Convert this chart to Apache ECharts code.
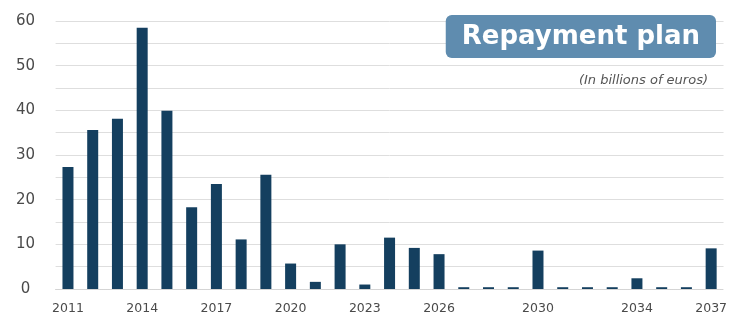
<!DOCTYPE html>
<html>
<head>
<meta charset="utf-8">
<script src="https://cdn.jsdelivr.net/npm/echarts@6/dist/echarts.min.js"></script>
<style>
  html, body { margin: 0; padding: 0; background: #fff; }
  #chart { width: 730px; height: 324px; }
</style>
</head>
<body>
<div id="chart"></div>
<script>
// Repayment plan, billions of euros
const years = ['2011', '2012', '2013', '2014', '2015', '2016', '2017', '2018', '2019', '2020',
  '2021', '2022', '2023', '2024', '2025', '2026', '2027', '2028', '2029', '2030',
  '2031', '2032', '2033', '2034', '2035', '2036', '2037']
const repayments = [27.3, 35.6, 38.1, 58.5, 39.9, 18.3, 23.5, 11.1, 25.6, 5.7,
  1.6, 10, 1.0, 11.5, 9.2, 7.8, 0.4, 0.4, 0.4, 8.6,
  0.4, 0.4, 0.4, 2.4, 0.4, 0.4, 9.1]
const yearLabels = ['2011', '2014', '2017', '2020', '2023', '2026', '2030', '2034', '2037']
const yTicks = [0, 10, 20, 30, 40, 50, 60]

const chart = echarts.init(document.getElementById('chart'))

const option = {
  animation: false,
  title: [
    {
      text: 'Repayment plan',
      right: 14,
      top: 15,
      backgroundColor: '#5f8caf',
      borderRadius: 6,
      padding: [9, 16, 8, 16],
      textStyle: {
        fontFamily: 'DejaVu Sans',
        fontWeight: 'bold',
        fontSize: 26,
        color: '#fff'
      }
    },
    {
      text: '(In billions of euros)',
      right: 22,
      top: 74,
      padding: 0,
      textStyle: {
        fontFamily: 'DejaVu Sans',
        fontStyle: 'italic',
        fontWeight: 'normal',
        fontSize: 13,
        color: '#555'
      }
    }
  ],
  grid: {
    left: 55.6,
    right: 3.4,
    top: 21,
    bottom: 35,
    containLabel: false
  },
  xAxis: {
    type: 'category',
    data: years,
    axisLine: { show: true, lineStyle: { color: '#d4d4d4', type: 'dotted' } },
    axisTick: { show: false },
    axisLabel: {
      interval: (idx, val) => yearLabels.includes(val),
      margin: 13,
      fontFamily: 'DejaVu Sans',
      fontSize: 12.5,
      color: '#4a4a4a'
    }
  },
  yAxis: {
    type: 'value',
    min: 0,
    max: 60,
    interval: 5,
    axisLine: { show: false },
    axisTick: { show: false },
    axisLabel: {
      formatter: v => (yTicks.includes(v) ? String(v) : ''),
      align: 'center',
      margin: 30,
      fontFamily: 'DejaVu Sans',
      fontSize: 15,
      color: '#4a4a4a'
    },
    splitLine: { lineStyle: { color: '#dedede', width: 1 } }
  },
  series: [
    {
      name: 'Repayment',
      type: 'bar',
      data: repayments,
      barWidth: 11,
      itemStyle: { color: '#143f5f' }
    }
  ]
}

chart.setOption(option)
</script>
</body>
</html>
